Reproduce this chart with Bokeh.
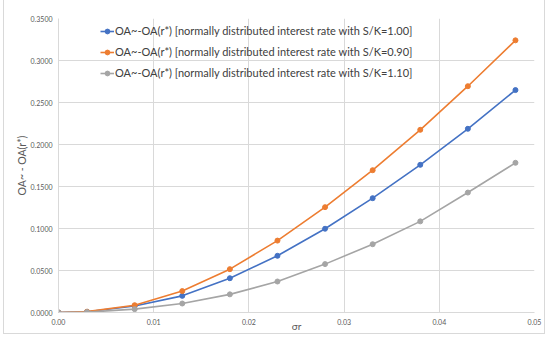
from bokeh.plotting import figure
from bokeh.models import FixedTicker, NumeralTickFormatter, Range1d, Legend, LegendItem
from bokeh.embed import file_html
from bokeh.resources import INLINE

sigma_r = [0, 0.003, 0.008, 0.013, 0.018, 0.023, 0.028, 0.033, 0.038, 0.043, 0.048]
diff_sk100 = [0, 0.0008, 0.0078, 0.0198, 0.0408, 0.0675, 0.0997, 0.1361, 0.1758, 0.2187, 0.2648]
diff_sk090 = [0, 0.0010, 0.0087, 0.0255, 0.0516, 0.0856, 0.1254, 0.1694, 0.2175, 0.2694, 0.3240]
diff_sk110 = [0, 0.0005, 0.0040, 0.0107, 0.0216, 0.0369, 0.0576, 0.0813, 0.1085, 0.1428, 0.1782]
series_names = [
    "OA~-OA(r*) [normally distributed interest rate with S/K=1.00]",
    "OA~-OA(r*) [normally distributed interest rate with S/K=0.90]",
    "OA~-OA(r*) [normally distributed interest rate with S/K=1.10]",
]
x_ticks = [0, 0.01, 0.02, 0.03, 0.04, 0.05]
y_ticks = [0, 0.05, 0.10, 0.15, 0.20, 0.25, 0.30, 0.35]

FONT = "Lato"
p = figure(width=542, height=334, output_backend="svg", toolbar_location=None,
           x_range=Range1d(0, 0.05), y_range=Range1d(0, 0.35),
           min_border_left=54, min_border_right=12, min_border_top=18, min_border_bottom=22)
p.styles = {"border-left": "1px solid #d9d9d9", "border-right": "1px solid #d9d9d9",
            "border-bottom": "1px solid #d9d9d9", "margin-left": "3px"}
p.outline_line_color = None

for ax in (p.xaxis[0], p.yaxis[0]):
    ax.major_tick_line_color = None
    ax.minor_tick_line_color = None
    ax.major_tick_out = 0
    ax.major_tick_in = 0
    ax.minor_tick_out = 0
    ax.major_label_text_font = FONT
    ax.major_label_text_font_size = "7px"
    ax.major_label_text_color = "#595959"
    ax.axis_line_color = "#d9d9d9"
p.xaxis.ticker = FixedTicker(ticks=x_ticks)
p.yaxis.ticker = FixedTicker(ticks=y_ticks)
p.xaxis.formatter = NumeralTickFormatter(format="0.00")
p.yaxis.formatter = NumeralTickFormatter(format="0.0000")
p.xaxis.major_label_standoff = 6
p.yaxis.major_label_standoff = 6
p.xaxis.axis_label = "σr"
p.xaxis.axis_label_text_font = FONT
p.xaxis.axis_label_text_font_size = "10px"
p.xaxis.axis_label_text_font_style = "normal"
p.xaxis.axis_label_text_color = "#595959"
p.xaxis.axis_label_standoff = -8
p.yaxis.axis_label = "OA~ - OA(r*)"
p.yaxis.axis_label_text_font = FONT
p.yaxis.axis_label_text_font_size = "10.5px"
p.yaxis.axis_label_text_font_style = "normal"
p.yaxis.axis_label_text_color = "#595959"
p.yaxis.axis_label_standoff = 0
p.xgrid.grid_line_color = "#d9d9d9"
p.ygrid.grid_line_color = "#d9d9d9"

colors = ["#4472C4", "#ED7D31", "#A5A5A5"]
items = []
for ys, c, name in zip([diff_sk100, diff_sk090, diff_sk110], colors, series_names):
    l = p.line(sigma_r, ys, line_color=c, line_width=1.6)
    s = p.scatter(sigma_r, ys, size=5, fill_color=c, line_color=c)
    items.append(LegendItem(label=name, renderers=[l, s]))

legend = Legend(items=items, location=(42, 233), orientation="vertical")
legend.background_fill_alpha = 0
legend.border_line_color = None
legend.label_text_font = FONT
legend.label_text_font_size = "11px"
legend.label_text_color = "#404040"
legend.label_height = 12
legend.glyph_width = 14
legend.glyph_height = 12
legend.label_standoff = 1
legend.spacing = 8
legend.padding = 0
legend.margin = 0
p.add_layout(legend, "center")

open("out.html", "w").write(file_html(p, INLINE))
